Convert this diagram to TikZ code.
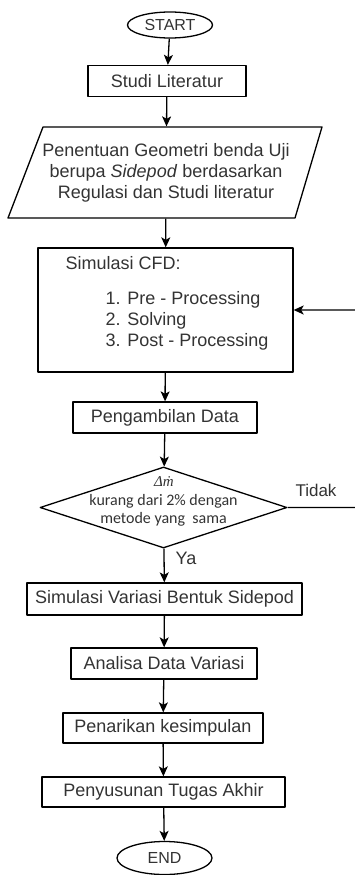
\documentclass[tikz,border=0pt]{standalone}
\usepackage{fontspec}
\setmainfont{Liberation Sans}
\newfontfamily\calibri{Carlito}
\newfontfamily\serifmat{Liberation Serif}
\usetikzlibrary{shapes.geometric,arrows.meta}
\begin{document}
\begin{tikzpicture}[x=1pt, y=-1pt, line width=1.3pt, line join=round, >={Stealth[length=10pt,width=9pt,inset=2.5pt]},
	kotak/.style={draw, rectangle, minimum width=#1, minimum height=31pt, inner sep=0pt, text=black!80, font=\fontsize{18}{21}\selectfont},
	oval/.style={draw, ellipse, minimum width=#1, minimum height=26pt, inner sep=0pt, text=black!80, font=\fontsize{16}{19}\selectfont},
	teks/.style={inner sep=0pt, text=black!80, font=\fontsize{18}{21}\selectfont}]
	\useasboundingbox (0,0) rectangle (355,875);
	\clip (0,0) rectangle (355,875);
	% terminal dan proses
	\node[oval=85pt] (mulai) at (170,25) {START};
	\node[kotak=158pt] (lit) at (167,81) {Studi Literatur};
	% input geometri (jajar genjang)
	\draw (43,127) -- (322,127) -- (295,218) -- (8,218) -- cycle;
	\node[teks, minimum height=91pt, align=center] (geo) at (166,172.5) {Penentuan Geometri benda Uji\\berupa \textit{Sidepod} berdasarkan\\Regulasi dan Studi literatur};
	% simulasi CFD
	\node[kotak=255pt, minimum height=124pt] (cfd) at (165.5,310) {};
	\node[teks, anchor=west] (judul) at (65,263) {Simulasi CFD:};
	\node[teks, anchor=west, align=left] (daftar) at (105,321) {1. Pre - Processing\\2. Solving\\3. Post - Processing};
	\node[kotak=184pt] (ambil) at (165,417.5) {Pengambilan Data};
	% keputusan
	\node[draw, diamond, minimum width=247pt, minimum height=81pt, inner sep=0pt] (cek) at (163.5,507.5) {};
	\node[inner sep=0pt, text=black!80, font=\serifmat\itshape\fontsize{15}{16}\selectfont] (delta) at (164,482) {Δṁ};
	\node[inner sep=0pt, align=center, text=black!80, font=\calibri\fontsize{16}{18}\selectfont] (syarat) at (163.5,510) {kurang dari 2\% dengan\\metode yang\ \ sama};
	\node[kotak=275pt, minimum height=32pt] (var) at (164.5,599) {Simulasi Variasi Bentuk Sidepod};
	\node[kotak=186pt] (ana) at (164,663.5) {Analisa Data Variasi};
	\node[kotak=200pt, minimum height=30pt] (tarik) at (163,728) {Penarikan kesimpulan};
	\node[kotak=243pt, minimum height=30pt] (susun) at (163.5,792) {Penyusunan Tugas Akhir};
	\node[oval=95pt, minimum height=33pt] (selesai) at (164.5,858) {END};
	% panah alur
	\foreach \a/\b in {mulai/lit, lit/geo, geo/cfd, cfd/ambil, ambil/cek, cek/var, var/ana, ana/tarik, tarik/susun, susun/selesai}
		\draw[->] (\a) -- (\b);
	% umpan balik
	\coordinate (balik) at (363,507.5);
	\draw[->, rounded corners=8pt] (cek.east) -- (balik) |- (cfd.east);
	\node[teks, font=\fontsize{17}{20}\selectfont] (tidak) at (316,490) {Tidak};
	\node[teks] (ya) at (186,558) {Ya};
\end{tikzpicture}
\end{document}
